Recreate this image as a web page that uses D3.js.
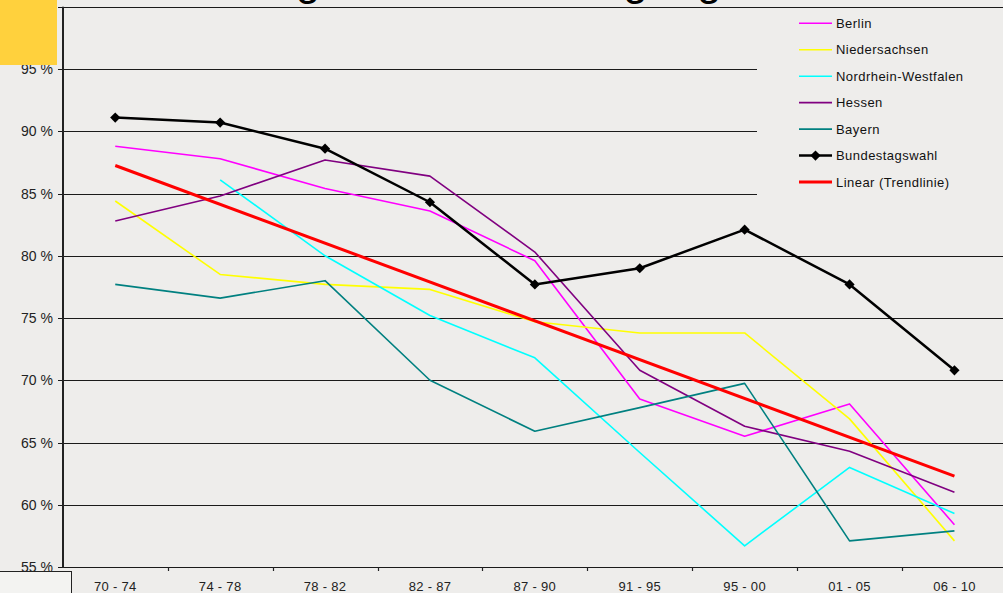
<!DOCTYPE html>
<html><head><meta charset="utf-8">
<script src="https://cdn.jsdelivr.net/npm/d3@7"></script>
<style>
html,body{margin:0;padding:0;background:#EEEDEB;overflow:hidden}
svg{display:block;font-family:Arial,"Liberation Sans",sans-serif}
</style></head>
<body>
<svg id="c" width="1003" height="593"></svg>
<script>
const title = "Entwicklung der Wahlbeteiligung";
const categories = ["70 - 74","74 - 78","78 - 82","82 - 87","87 - 90","91 - 95","95 - 00","01 - 05","06 - 10"];
const yTicks = [55,60,65,70,75,80,85,90,95,100];
const berlin = [88.8,87.8,85.4,83.6,79.6,68.5,65.5,68.1,58.4];
const niedersachsen = [84.4,78.5,77.7,77.3,74.7,73.8,73.8,66.9,57.1];
const nrw = [null,86.1,80.0,75.2,71.8,64.2,56.7,63.0,59.3];
const hessen = [82.8,84.8,87.7,86.4,80.3,70.8,66.3,64.3,61.0];
const bayern = [77.7,76.6,78.0,70.0,65.9,67.8,69.75,57.1,57.9];
const bundestagswahl = [91.1,90.7,88.6,84.3,77.7,79.0,82.1,77.7,70.8];
const trendEnds = [87.25,62.3];
const seriesNames = ["Berlin","Niedersachsen","Nordrhein-Westfalen","Hessen","Bayern","Bundestagswahl","Linear (Trendlinie)"];
const seriesColors = ["#FF00FF","#FFFF00","#00FFFF","#800080","#008080","#000000","#FF0000"];

const svg = d3.select("#c");
const W = 1003, H = 593;
const x = d3.scaleBand().domain(categories).range([62.8, 1006.9]).padding(0);
const y = d3.scaleLinear().domain([55,100]).range([567, 6.8]);
const cx = c => x(c) + x.bandwidth()/2;

// gridlines
svg.append("g").selectAll("line").data(yTicks).join("line")
  .attr("x1", 58).attr("x2", W)
  .attr("y1", d => Math.round(y(d))+0.5).attr("y2", d => Math.round(y(d))+0.5)
  .attr("stroke", "#1a1a1a").attr("stroke-width", 1.2);

// y labels
svg.append("g").selectAll("text").data(yTicks.filter(d => d < 100)).join("text")
  .attr("x", 53).attr("y", d => y(d)).attr("dy", "0.36em")
  .attr("text-anchor", "end").attr("font-size", 14).attr("fill", "#222")
  .text(d => d + " %");

// y axis line
svg.append("line").attr("x1", 63).attr("x2", 63).attr("y1", y(100)).attr("y2", y(55)+1)
  .attr("stroke", "#222").attr("stroke-width", 2);

// x tick marks at category boundaries
svg.append("g").selectAll("line").data(categories.slice(1)).join("line")
  .attr("x1", d => Math.round(x(d))+0.5).attr("x2", d => Math.round(x(d))+0.5)
  .attr("y1", y(55)).attr("y2", y(55)+4)
  .attr("stroke", "#222").attr("stroke-width", 1.2);

// x labels
svg.append("g").selectAll("text").data(categories).join("text")
  .attr("x", d => cx(d)).attr("y", 591)
  .attr("text-anchor", "middle").attr("font-size", 13).attr("fill", "#222")
  .attr("letter-spacing", "0.3")
  .text(d => d);

// series lines
const thin = [berlin, niedersachsen, nrw, hessen, bayern];
const line = d3.line().defined(d => d.v != null).x(d => cx(d.c)).y(d => y(d.v));
thin.forEach((s, i) => {
  svg.append("path")
    .datum(s.map((v, j) => ({c: categories[j], v})))
    .attr("d", line).attr("fill", "none")
    .attr("stroke", seriesColors[i]).attr("stroke-width", 1.6)
    .attr("stroke-linejoin", "round");
});

// trend line
svg.append("path")
  .datum([{c: categories[0], v: trendEnds[0]}, {c: categories[categories.length-1], v: trendEnds[1]}])
  .attr("d", line).attr("fill", "none").attr("stroke", seriesColors[6]).attr("stroke-width", 3);

// Bundestagswahl
const bw = bundestagswahl.map((v, j) => ({c: categories[j], v}));
svg.append("path").datum(bw).attr("d", line).attr("fill", "none")
  .attr("stroke", "#000").attr("stroke-width", 2.5).attr("stroke-linejoin", "round");
const diamond = d3.symbol().type(d3.symbolSquare).size(52);
svg.append("g").selectAll("path").data(bw).join("path")
  .attr("d", diamond)
  .attr("transform", d => `translate(${cx(d.c)},${y(d.v)}) rotate(45)`)
  .attr("fill", "#000");

// legend
const lg = svg.append("g");
lg.append("rect").attr("x", 757).attr("y", 8).attr("width", W-757).attr("height", 197).attr("fill", "#EEEDEB");
const rowY = i => 23.3 + i * 26.45;
seriesNames.forEach((n, i) => {
  const sw = i === 6 ? 3 : (i === 5 ? 2.5 : 1.6);
  lg.append("line").attr("x1", 799).attr("x2", 832).attr("y1", rowY(i)).attr("y2", rowY(i))
    .attr("stroke", seriesColors[i]).attr("stroke-width", sw);
  if (i === 5) {
    lg.append("path").attr("d", diamond).attr("transform", `translate(815.5,${rowY(i)}) rotate(45)`).attr("fill", "#000");
  }
  lg.append("text").attr("x", 836).attr("y", rowY(i)).attr("dy", "0.36em")
    .attr("font-size", 13).attr("letter-spacing", "0.45").attr("fill", "#111").text(n);
});

// yellow square
svg.append("rect").attr("x", 0).attr("y", 0).attr("width", 57).attr("height", 65).attr("fill", "#FFD13D");

// bottom-left box
svg.append("rect").attr("x", -1).attr("y", 571.5).attr("width", 72.5).attr("height", 30)
  .attr("fill", "#F3F3F1").attr("stroke", "#222").attr("stroke-width", 1);

// title (mostly cut off above the view)
svg.append("text").attr("x", 84.5).attr("y", -5).attr("font-size", 44.2).attr("fill", "#000")
  .text(title);
</script>
</body></html>
